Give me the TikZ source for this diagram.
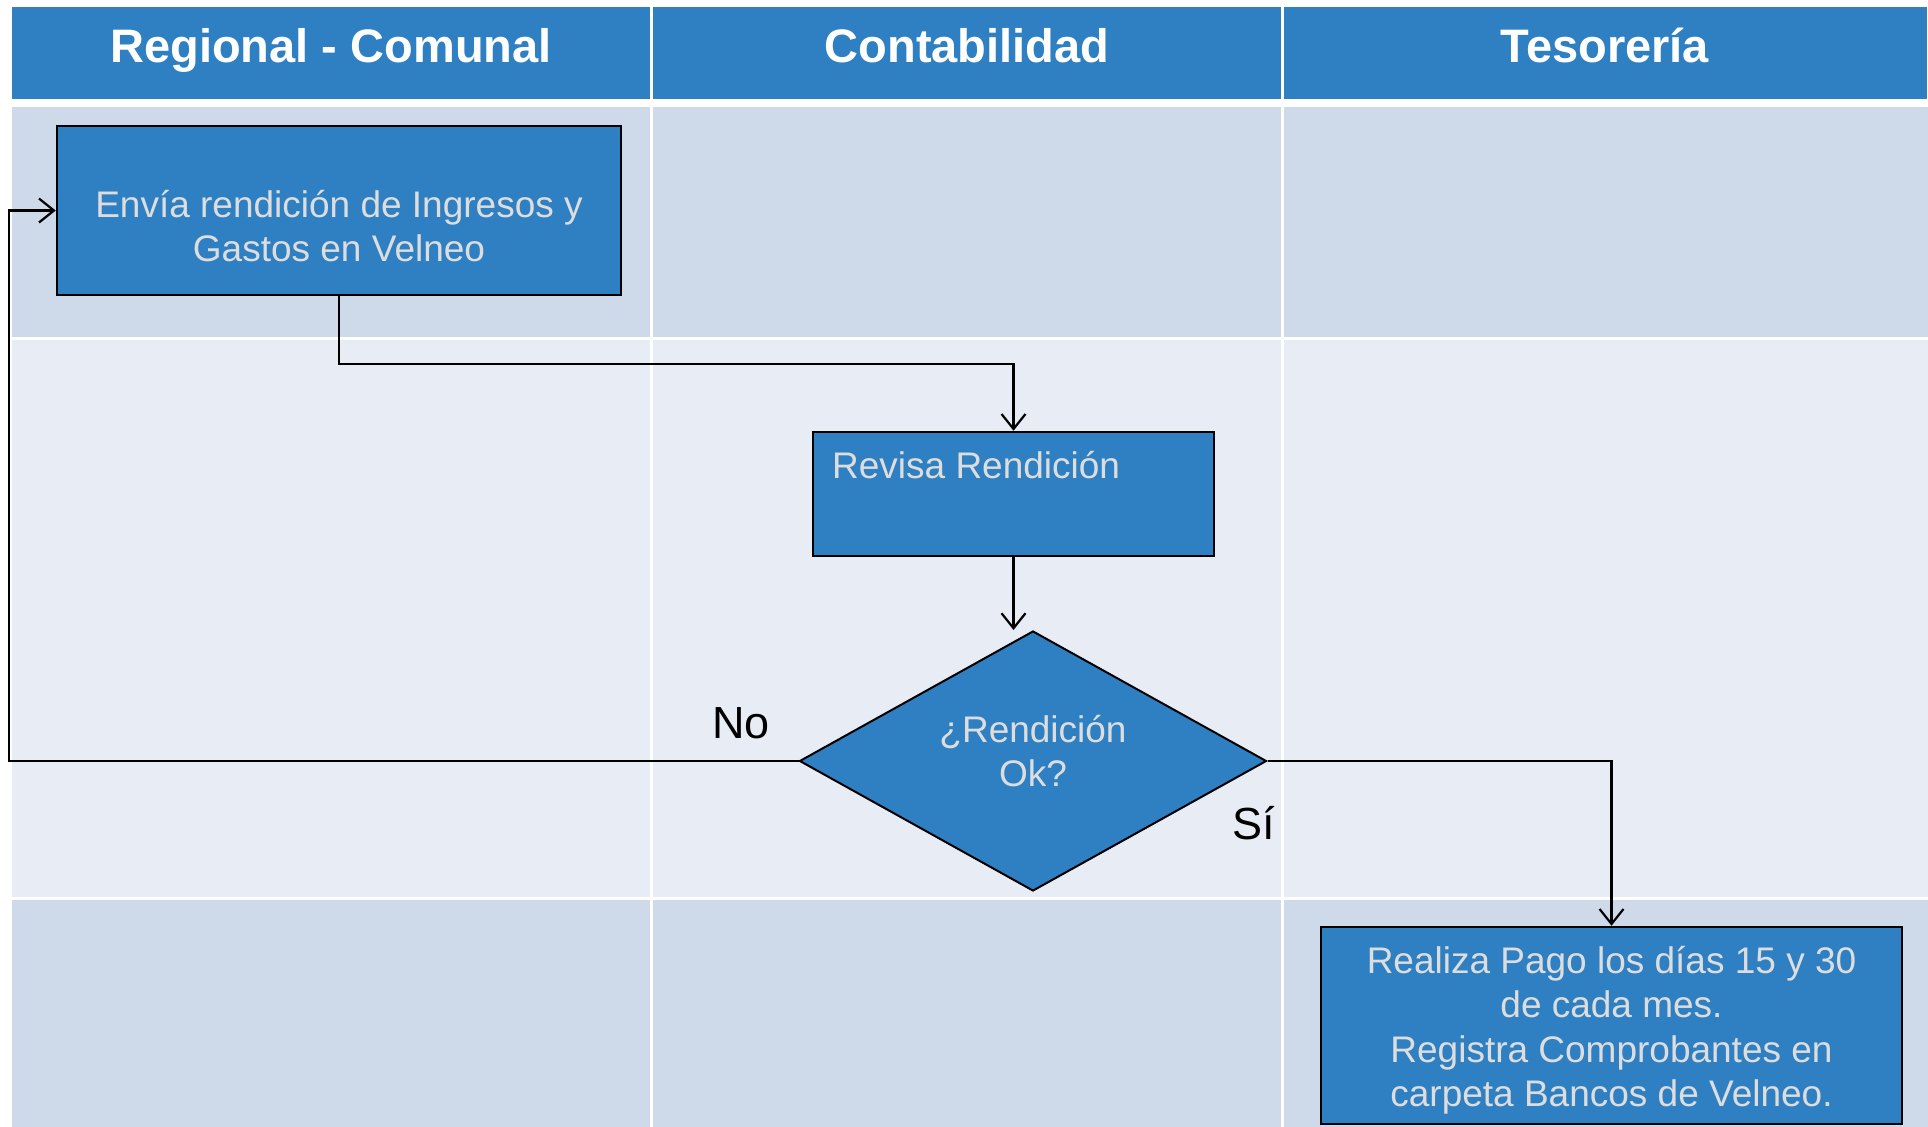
\documentclass[tikz,border=0pt]{standalone}
\usepackage{fontspec}
\setmainfont{Liberation Sans}
\usetikzlibrary{shapes.geometric,arrows.meta}
\definecolor{hdrblue}{HTML}{2E80C3}
\definecolor{boxblue}{HTML}{2E80C3}
\definecolor{laneA}{HTML}{CED9E9}
\definecolor{laneB}{HTML}{E8ECF5}
\definecolor{txtgray}{HTML}{DDDDDD}
\tikzset{
  hdrtext/.style={text=white,font=\bfseries\fontsize{47}{56}\selectfont,inner sep=0pt,anchor=base},
  procbox/.style={draw=black,line width=2.5pt,fill=boxblue,inner sep=0pt},
  boxtext/.style={text=txtgray,font=\fontsize{37}{44.5}\selectfont,align=center,inner sep=0pt},
  lbltext/.style={text=black,font=\fontsize{45}{54}\selectfont,inner sep=0pt},
  conn/.style={draw=black,line width=2.2pt,-{Straight Barb[length=15pt,width=24pt,line width=2.2pt]}}
}
\begin{document}
\begin{tikzpicture}[x=1pt,y=-1pt]
\useasboundingbox (0,0) rectangle (1928,1127);
\fill[white] (0,0) rectangle (1928,1127);
% header cells
\fill[hdrblue] (12,7) rectangle (650,99);
\fill[hdrblue] (653,7) rectangle (1281,99);
\fill[hdrblue] (1284,7) rectangle (1927,99);
% lane cells
\foreach \xa/\xb in {12/650,653/1281,1284/1928}{
  \fill[laneA] (\xa,107) rectangle (\xb,337);
  \fill[laneB] (\xa,340) rectangle (\xb,897);
  \fill[laneA] (\xa,900) rectangle (\xb,1127);
}
% headers
\node[hdrtext] (h1) at (331,62) {Regional - Comunal};
\node[hdrtext] (h2) at (967,62) {Contabilidad};
\node[hdrtext] (h3) at (1605,62) {Tesorería};
% boxes
\node[procbox,minimum width=564pt,minimum height=169pt] (b1) at (339,210.5) {};
\node[boxtext] (t1) at (339,226) {Envía rendición de Ingresos y\\Gastos en Velneo};
\node[procbox,minimum width=401pt,minimum height=124pt] (b2) at (1013.5,494) {};
\node[boxtext,anchor=west] (t2) at (832,465) {Revisa Rendición};
\node[diamond,draw=black,line width=2pt,fill=boxblue,inner sep=0pt,aspect=1.8,minimum width=467pt,minimum height=260pt] (dia) at (1033,761) {};
\node[boxtext] (t3) at (1033,751) {¿Rendición\\Ok?};
\node[procbox,minimum width=581pt,minimum height=197pt] (b3) at (1611.5,1025.5) {};
\node[boxtext] (t4) at (1611.5,1030) {Realiza Pago los días 15 y 30\\de cada mes.\\Registra Comprobantes en\\carpeta Bancos de Velneo.};
% labels
\node[lbltext] (no) at (741,723) {No};
\node[lbltext] (si) at (1254,823) {Sí};
% connectors
\coordinate (loopc) at (9,761);
\draw[conn] (b1.south) -- ++(0,68) -| (b2.north);
\draw[conn] (b2.south) -- (b2.south |- dia.north);
\draw[conn] (dia.west) -- (loopc) |- (b1.west);
\draw[conn] (dia.east) -| (b3.north);
\end{tikzpicture}
\end{document}
